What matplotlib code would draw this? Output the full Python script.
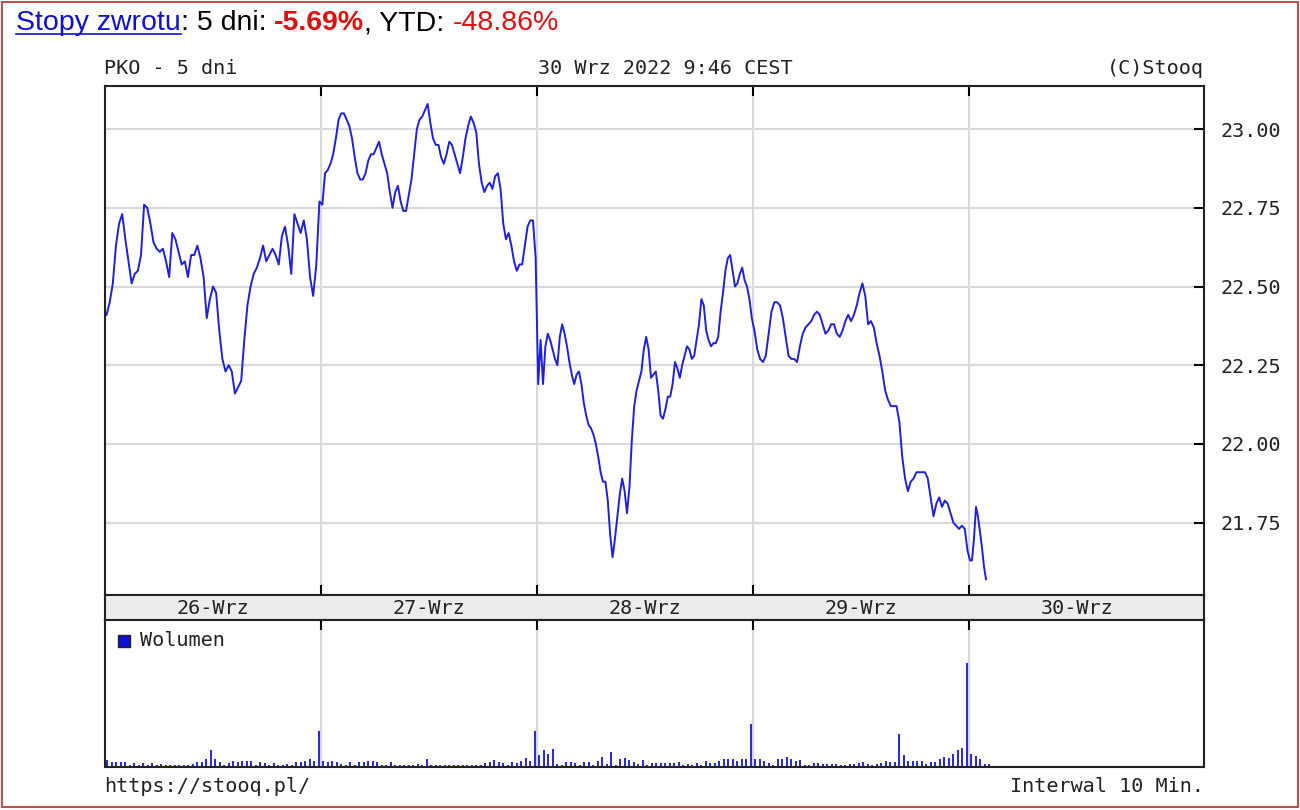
import numpy as np
import matplotlib.pyplot as plt
from matplotlib.patches import Rectangle
from matplotlib.lines import Line2D

plt.rcParams['font.family'] = ['DejaVu Sans Mono']

W, H = 1300, 810

days = ['26-Wrz', '27-Wrz', '28-Wrz', '29-Wrz', '30-Wrz']
# minutes of each session shown (last day cut at 9:40 bar)
session_min = [480, 480, 480, 480, 40]

price_26 = [22.41, 22.45, 22.51, 22.63, 22.70, 22.73, 22.65, 22.58, 22.51, 22.54,
            22.55, 22.60, 22.76, 22.75, 22.70, 22.64, 22.62, 22.61, 22.62, 22.58,
            22.53, 22.67, 22.65, 22.61, 22.57, 22.58, 22.53, 22.60, 22.60, 22.63,
            22.59, 22.53, 22.40, 22.46, 22.50, 22.48, 22.36, 22.27, 22.23, 22.25,
            22.23, 22.16, 22.18, 22.20, 22.33, 22.44, 22.50, 22.54, 22.56, 22.59,
            22.63, 22.58, 22.60, 22.62, 22.60, 22.57, 22.66, 22.69, 22.63, 22.54,
            22.73, 22.70, 22.67, 22.71, 22.65, 22.53, 22.47, 22.57, 22.77]
price_27 = [22.76, 22.86, 22.87, 22.89, 22.92, 22.97, 23.03, 23.05, 23.05, 23.03,
            23.01, 22.97, 22.91, 22.86, 22.84, 22.84, 22.86, 22.90, 22.92, 22.92,
            22.94, 22.96, 22.92, 22.89, 22.86, 22.80, 22.75, 22.80, 22.82, 22.77,
            22.74, 22.74, 22.79, 22.84, 22.92, 23.00, 23.03, 23.04, 23.06, 23.08,
            23.02, 22.97, 22.95, 22.95, 22.91, 22.89, 22.92, 22.96, 22.95, 22.92,
            22.89, 22.86, 22.91, 22.97, 23.01, 23.04, 23.02, 22.99, 22.89, 22.83,
            22.80, 22.82, 22.83, 22.81, 22.85, 22.86, 22.81, 22.70, 22.65, 22.67,
            22.63, 22.58, 22.55, 22.57, 22.57, 22.63, 22.69, 22.71, 22.71, 22.59]
price_28 = [22.19, 22.33, 22.19, 22.31, 22.35, 22.33, 22.30, 22.27, 22.25, 22.34,
            22.38, 22.35, 22.31, 22.26, 22.22, 22.19, 22.22, 22.23, 22.19, 22.13,
            22.09, 22.06, 22.05, 22.03, 22.00, 21.96, 21.91, 21.88, 21.88, 21.82,
            21.71, 21.64, 21.70, 21.77, 21.84, 21.89, 21.85, 21.78, 21.86, 22.01,
            22.12, 22.17, 22.20, 22.23, 22.30, 22.34, 22.30, 22.21, 22.22, 22.23,
            22.17, 22.09, 22.08, 22.11, 22.15, 22.15, 22.19, 22.26, 22.24, 22.21,
            22.25, 22.28, 22.31, 22.30, 22.27, 22.28, 22.33, 22.38, 22.46, 22.44,
            22.36, 22.33, 22.31, 22.32, 22.32, 22.34, 22.42, 22.48, 22.55, 22.59,
            22.60, 22.55, 22.50, 22.51, 22.54, 22.56, 22.52, 22.50, 22.46, 22.40]
price_29 = [22.36, 22.30, 22.27, 22.26, 22.28, 22.35, 22.42, 22.45, 22.45, 22.44,
            22.40, 22.34, 22.28, 22.27, 22.27, 22.26, 22.31, 22.35, 22.37, 22.38,
            22.39, 22.41, 22.42, 22.41, 22.38, 22.35, 22.36, 22.38, 22.38, 22.35,
            22.34, 22.36, 22.39, 22.41, 22.39, 22.41, 22.44, 22.48, 22.51, 22.47,
            22.38, 22.39, 22.37, 22.32, 22.28, 22.23, 22.17, 22.14, 22.12, 22.12,
            22.12, 22.07, 21.96, 21.89, 21.85, 21.88, 21.89, 21.91, 21.91, 21.91,
            21.91, 21.89, 21.83, 21.77, 21.81, 21.83, 21.80, 21.82, 21.81, 21.78,
            21.75, 21.74, 21.73, 21.74, 21.73, 21.66]
price_30 = [21.63, 21.63, 21.70, 21.80, 21.77, 21.72, 21.67, 21.61, 21.57]

# volume per 10-min bar (relative units)
vol_26 = [7, 5, 5, 5, 5, 2, 4, 2, 4, 2, 4, 2, 3, 2, 2, 2, 2, 2, 2, 3,
          5, 5, 8, 17, 8, 5, 2, 4, 6, 5, 6, 6, 6, 2, 5, 4, 2, 4, 2, 2,
          3, 2, 5, 5, 6, 8, 6, 36]
vol_27 = [6, 5, 6, 5, 3, 2, 5, 2, 5, 5, 6, 6, 5, 2, 2, 5, 2, 2, 2, 2,
          2, 3, 2, 8, 2, 2, 2, 2, 2, 2, 2, 2, 2, 2, 2, 2, 4, 5, 7, 5,
          4, 2, 5, 4, 6, 9, 6, 36]
vol_28 = [12, 17, 13, 18, 3, 2, 5, 5, 4, 2, 5, 5, 2, 6, 10, 3, 15, 2, 8, 9,
          7, 5, 3, 7, 2, 4, 4, 4, 4, 4, 4, 5, 2, 3, 2, 4, 2, 6, 4, 4,
          6, 8, 8, 8, 6, 8, 8, 43]
vol_29 = [8, 8, 6, 4, 2, 8, 8, 10, 8, 6, 7, 2, 2, 4, 4, 3, 3, 3, 3, 2,
          2, 3, 3, 4, 5, 3, 2, 3, 4, 6, 5, 5, 33, 12, 6, 6, 6, 6, 3, 5,
          5, 8, 10, 9, 13, 17, 19, 104]
vol_30 = [13, 11, 8, 3, 3]

prices = [price_26, price_27, price_28, price_29, price_30]
vols = [vol_26, vol_27, vol_28, vol_29, vol_30]

px, py = [], []
for d, (vals, mins) in enumerate(zip(prices, session_min)):
    n = len(vals)
    px.extend(d + (np.arange(n) + 0.5) / n * mins / 480)
    py.extend(vals)

vx, vy = [], []
for d, vals in enumerate(vols):
    vx.extend(d + (np.arange(len(vals)) + 0.5) / 48)
    vy.extend(vals)


def fx(p):
    return p / W


def fy(p):
    return 1 - p / H


fig = plt.figure(figsize=(13, 8.1), dpi=100)
fig.patch.set_facecolor('white')
fig.add_artist(Rectangle((fx(2), fy(807)), fx(1296), 805 / H, transform=fig.transFigure,
                         fill=False, ec='#c0504d', lw=1.5))

# title line
renderer = fig.canvas.get_renderer()
parts = [('Stopy zwrotu', '#1010d0', 'normal'),
         (': 5 dni: ', 'black', 'normal'),
         ('-5.69%', '#e01010', 'bold'),
         (', YTD: ', 'black', 'normal'),
         ('-48.86%', '#e01010', 'normal')]
x0 = 16
for txt, col, wt in parts:
    t = fig.text(fx(x0), fy(30), txt, color=col, fontweight=wt, fontsize=20.5,
                 family='Liberation Sans', va='baseline', ha='left')
    bb = t.get_window_extent(renderer)
    if txt.startswith('Stopy'):
        fig.add_artist(Line2D([fx(x0), fx(x0 + bb.width)], [fy(34), fy(34)],
                              color='#1010d0', lw=1.2, transform=fig.transFigure))
    x0 += bb.width

fs = 14.5
fig.text(fx(104), fy(68), 'PKO - 5 dni', fontsize=fs, va='center', ha='left', color='#222222')
fig.text(fx(665), fy(68), '30 Wrz 2022 9:46 CEST', fontsize=fs, va='center', ha='center', color='#222222')
fig.text(fx(1204), fy(68), '(C)Stooq', fontsize=fs, va='center', ha='right', color='#222222')
fig.text(fx(104), fy(786), 'https://stooq.pl/', fontsize=fs, va='center', ha='left', color='#222222')
fig.text(fx(1204), fy(786), 'Interwal 10 Min.', fontsize=fs, va='center', ha='right', color='#222222')

xmax = (1204 - 105) / 216
left, width = fx(105), fx(1204 - 105)

# main price panel
ax = fig.add_axes([left, fy(595), width, (595 - 86) / H])
ax.plot(px, py, color='#1f1fe0', lw=1.4)
ax.set_xlim(0, xmax)
ax.set_ylim(21.52, 23.137)
ax.set_yticks([21.75, 22.0, 22.25, 22.5, 22.75, 23.0])
ax.set_yticklabels(['%.2f' % v for v in [21.75, 22.0, 22.25, 22.5, 22.75, 23.0]])
ax.yaxis.tick_right()
ax.set_xticks([1, 2, 3, 4])
ax.set_xticklabels([])
ax.tick_params(axis='y', direction='in', length=7, width=1.5, pad=12, labelsize=fs,
               labelcolor='#222222')
ax.tick_params(axis='x', direction='in', length=7, width=1.5, top=True, bottom=True)
ax.grid(color='#d9d9d9', lw=1.5)
ax.set_axisbelow(True)
for s in ax.spines.values():
    s.set_linewidth(1.5)
    s.set_color('#222222')

# date strip
ad = fig.add_axes([left, fy(620), width, 25 / H])
ad.set_facecolor('#ececec')
ad.set_xlim(0, xmax)
ad.set_ylim(0, 1)
ad.set_xticks([])
ad.set_yticks([])
for d, lab in enumerate(days):
    ad.text(d + 0.5, 0.45, lab, fontsize=fs, ha='center', va='center', color='#222222')
for s in ad.spines.values():
    s.set_linewidth(1.5)
    s.set_color('#222222')

# volume panel
av = fig.add_axes([left, fy(767), width, (767 - 620) / H])
av.bar(vx, vy, width=0.45 / 48, color='#2b2bdc')
av.set_xlim(0, xmax)
av.set_ylim(0, 147)
av.set_xticks([1, 2, 3, 4])
av.set_xticklabels([])
av.set_yticks([])
av.tick_params(axis='x', direction='in', length=7, width=1.5, top=True, bottom=False)
av.grid(axis='x', color='#d9d9d9', lw=1.5)
av.set_axisbelow(True)
for s in av.spines.values():
    s.set_linewidth(1.5)
    s.set_color('#222222')
av.add_patch(Rectangle((13 / 1099, 1 - 27 / 147), 12 / 1099, 12 / 147,
                       transform=av.transAxes, fc='#1010d0', ec='#222222', lw=1))
av.text(35 / 1099, 1 - 21 / 147, 'Wolumen', transform=av.transAxes, fontsize=fs,
        va='center', ha='left', color='#222222')

fig.savefig('out.png', dpi=100)
